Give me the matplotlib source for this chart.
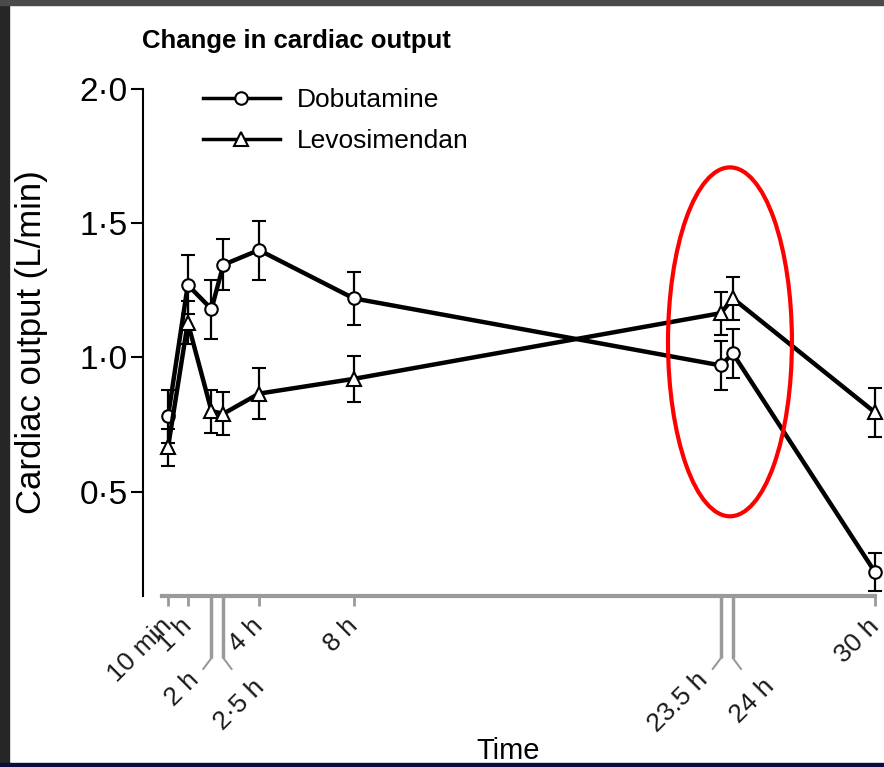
import matplotlib
matplotlib.use("Agg")
import matplotlib.pyplot as plt
from matplotlib.lines import Line2D
from matplotlib.patches import Ellipse, Rectangle

plt.rcParams['font.family'] = ['Liberation Sans', 'DejaVu Sans']

# time points in hours
times = [10 / 60, 1, 2, 2.5, 4, 8, 23.5, 24, 30]

dobutamine = [0.78, 1.27, 1.18, 1.345, 1.40, 1.22, 0.97, 1.015, 0.20]
dobutamine_err = [0.10, 0.11, 0.11, 0.095, 0.11, 0.10, 0.09, 0.09, 0.07]

levosimendan = [0.665, 1.13, 0.80, 0.79, 0.865, 0.92, 1.165, 1.22, 0.795]
levosimendan_err = [0.07, 0.08, 0.08, 0.08, 0.095, 0.085, 0.08, 0.08, 0.09]

short_ticks = [10 / 60, 1, 4, 8, 30]
short_labels = ['10 min', '1 h', '4 h', '8 h', '30 h']
long_ticks = [2, 2.5, 23.5, 24]
long_labels = ['2 h', '2·5 h', '23.5 h', '24 h']
long_sides = [-1, 1, -1, 1]

y_ticks = [0.5, 1.0, 1.5, 2.0]
y_labels = ['0·5', '1·0', '1·5', '2·0']

W, H = 884, 767
fig = plt.figure(figsize=(W / 100, H / 100), dpi=100)
ax = fig.add_axes([143 / W, 1 - 596 / H, 741 / W, 507 / H])

common = dict(color='black', lw=3.2, mfc='white', mec='black', mew=1.5,
              capsize=5, elinewidth=1.6, capthick=1.6, zorder=3)
ax.errorbar(times, dobutamine, yerr=dobutamine_err, marker='o', ms=9, **common)
ax.errorbar(times, levosimendan, yerr=levosimendan_err, marker='^', ms=9.5, **common)

ax.set_xlim(-0.89, 30.38)
ax.set_ylim(0.111, 2.0)

# axes styling
for s in ['top', 'right']:
    ax.spines[s].set_visible(False)
ax.spines['left'].set_linewidth(1.5)
ax.spines['bottom'].set_color('#9a9a9a')
ax.spines['bottom'].set_linewidth(3)
ax.spines['bottom'].set_bounds(-0.1, 30)

ax.set_yticks(y_ticks)
ax.set_yticklabels(y_labels, fontsize=24)
ax.tick_params(axis='y', length=9, width=1.5, pad=2)

ax.set_xticks(short_ticks)
ax.set_xticklabels(short_labels, fontsize=19, rotation=45, ha='right',
                   va='center', rotation_mode='anchor', color='#1a1a1a')
ax.tick_params(axis='x', length=7, width=2, color='#9a9a9a', pad=12)

# long ticks for the close pairs (2 h / 2.5 h and 23.5 h / 24 h)
ax.set_xticks(long_ticks, minor=True)
ax.tick_params(axis='x', which='minor', length=44.5, width=2.5, color='#9a9a9a')
base = ax.get_xaxis_transform()
drop = -62 / 507
for t, lab, side in zip(long_ticks, long_labels, long_sides):
    ax.annotate('', xy=(t, drop), xycoords=base, xytext=(side * 6, -8),
                textcoords='offset points',
                arrowprops=dict(arrowstyle='-', color='#9a9a9a', lw=1.5,
                                shrinkA=0, shrinkB=0))
    off = (27, -18) if side > 0 else (-12, -13)
    ax.annotate(lab, xy=(t, drop), xycoords=base, xytext=off,
                textcoords='offset points', rotation=45, ha='right',
                va='center', rotation_mode='anchor', fontsize=19,
                color='#1a1a1a', annotation_clip=False)

ax.set_ylabel('Cardiac output (L/min)', fontsize=25)
ax.yaxis.set_label_coords(-95 / 741, 0.5)

fig.text(508 / W, 1 - 759 / H, 'Time', ha='center', va='baseline', fontsize=21)
fig.text(142 / W, 1 - 48 / H, 'Change in cardiac output', fontsize=18.5,
         fontweight='bold', va='baseline')

# legend
handles = [
    Line2D([], [], color='black', lw=2.5, marker='o', ms=9, mfc='white', mew=1.5),
    Line2D([], [], color='black', lw=2.5, marker='^', ms=9.5, mfc='white', mew=1.5),
]
fig.legend(handles, ['Dobutamine', 'Levosimendan'], loc='upper left',
           bbox_to_anchor=(203 / W, 1 - 88 / H), frameon=False, fontsize=19,
           handlelength=2.9, handletextpad=0.65, labelspacing=0.65,
           borderpad=0, borderaxespad=0)

# red highlight around the 23.5 h / 24 h points
ax.add_patch(Ellipse((23.88, 1.058), width=5.23, height=1.30, fill=False,
                     ec='red', lw=3, zorder=5, clip_on=False))

# screenshot frame
fig.add_artist(Rectangle((0, 0), 9 / W, 1, transform=fig.transFigure,
                         color='#262626', zorder=10))
fig.add_artist(Rectangle((0, 1 - 5 / H), 1, 5 / H, transform=fig.transFigure,
                         color='#4a4a4a', zorder=10))
fig.add_artist(Rectangle((0, 0), 1, 4 / H, transform=fig.transFigure,
                         color='#0b0b3d', zorder=10))

fig.savefig('out.png', dpi=100)
